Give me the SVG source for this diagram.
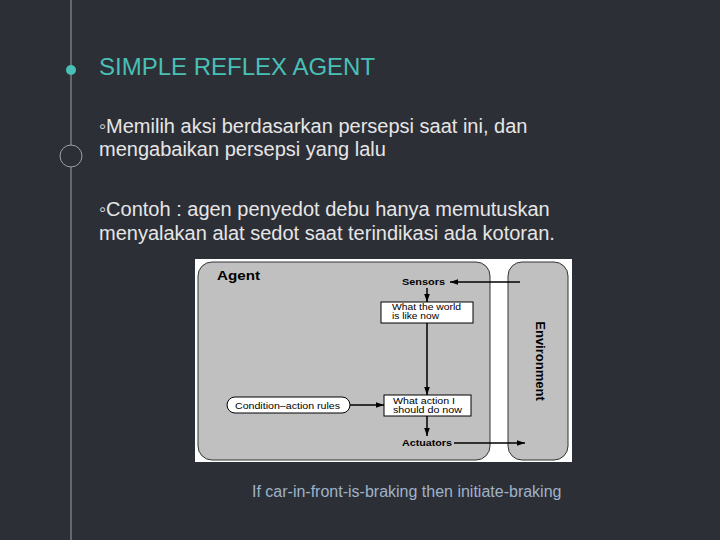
<svg xmlns="http://www.w3.org/2000/svg" width="720" height="540" viewBox="0 0 720 540">
<defs>
<style>
.body{font-family:"Liberation Sans",Arial,sans-serif;font-size:20px;fill:#e6e6e6}
.lbl{font-family:"Liberation Sans",Arial,sans-serif;font-size:9.5px;fill:#000}
.sm{font-size:9px}
.big{font-size:12px}
.env{font-size:13px}
.bold{font-weight:bold}
.ln{stroke:#000;stroke-width:1.5;fill:none}
</style>
<marker id="ah" viewBox="0 0 10 10" refX="10" refY="5" markerWidth="8" markerHeight="8" orient="auto" markerUnits="userSpaceOnUse"><path d="M0,1.5 L10,5 L0,8.5 z" fill="#000"/></marker>
</defs>
<rect width="720" height="540" fill="#2d2f37"/>
<line x1="71" y1="0" x2="71" y2="540" stroke="#a0a0a0" stroke-width="1"/>
<circle cx="71" cy="70" r="5" fill="#48c0b5"/>
<circle cx="71" cy="156" r="11" fill="#2d2f37" stroke="#a0a0a0" stroke-width="1"/>
<text x="99" y="75" font-family="Liberation Sans, Arial, sans-serif" font-size="24" fill="#48c0b5">SIMPLE REFLEX AGENT</text>
<text class="body" x="99" y="133">◦Memilih aksi berdasarkan persepsi saat ini, dan</text>
<text class="body" x="99" y="156">mengabaikan persepsi yang lalu</text>
<text class="body" x="99" y="216">◦Contoh : agen penyedot debu hanya memutuskan</text>
<text class="body" x="99" y="240">menyalakan alat sedot saat terindikasi ada kotoran.</text>
<text x="252" y="497" font-family="Liberation Sans, Arial, sans-serif" font-size="16" fill="#9fb3c8">If car-in-front-is-braking then initiate-braking</text>
<rect x="195" y="259" width="377" height="203" fill="#ffffff"/>
<g id="agent">
<rect x="198" y="262" width="292" height="198" rx="14" fill="#c0c0c0" stroke="#333" stroke-width="1"/>
<text class="lbl bold big" x="217" y="280" textLength="43" lengthAdjust="spacingAndGlyphs">Agent</text>
</g>
<g id="environment">
<rect x="508" y="262" width="60" height="198" rx="14" fill="#c0c0c0" stroke="#333" stroke-width="1"/>
<text class="lbl bold env" transform="translate(536,361) rotate(90)" text-anchor="middle">Environment</text>
</g>
<g id="sensors"><text class="lbl bold" x="402" y="285" textLength="43" lengthAdjust="spacingAndGlyphs">Sensors</text></g>
<g id="world">
<rect x="381" y="302" width="92" height="21" fill="#fff" stroke="#000" stroke-width="1"/>
<text class="lbl sm" x="392" y="309.5" textLength="69" lengthAdjust="spacingAndGlyphs">What the world</text>
<text class="lbl sm" x="392" y="319" textLength="47" lengthAdjust="spacingAndGlyphs">is like now</text>
</g>
<g id="action">
<rect x="384" y="395" width="87" height="21" fill="#fff" stroke="#000" stroke-width="1"/>
<text class="lbl sm" x="393" y="403.5" textLength="62" lengthAdjust="spacingAndGlyphs">What action I</text>
<text class="lbl sm" x="393" y="413" textLength="69" lengthAdjust="spacingAndGlyphs">should do now</text>
</g>
<g id="rules">
<rect x="227" y="397" width="123" height="16" rx="8" fill="#fff" stroke="#000" stroke-width="1"/>
<text class="lbl" x="235" y="408.5" textLength="105" lengthAdjust="spacingAndGlyphs">Condition–action rules</text>
</g>
<g id="actuators"><text class="lbl bold" x="402" y="446" textLength="50" lengthAdjust="spacingAndGlyphs">Actuators</text></g>
<g id="connectors">
<line class="ln" x1="520" y1="282" x2="450" y2="282" marker-end="url(#ah)"/>
<line class="ln" x1="427" y1="288" x2="427" y2="302" marker-end="url(#ah)"/>
<line class="ln" x1="427" y1="323" x2="427" y2="395" marker-end="url(#ah)"/>
<line class="ln" x1="350" y1="405" x2="384" y2="405" marker-end="url(#ah)"/>
<line class="ln" x1="427" y1="416" x2="427" y2="436" marker-end="url(#ah)"/>
<line class="ln" x1="454" y1="443" x2="525" y2="443" marker-end="url(#ah)"/>
</g>
</svg>
